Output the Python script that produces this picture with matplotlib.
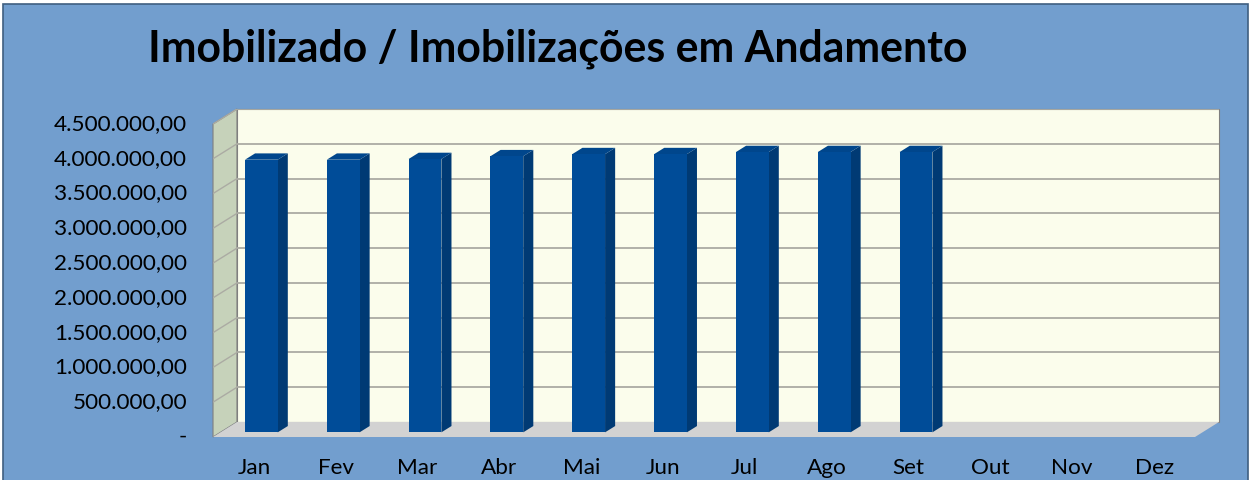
import numpy as np
import matplotlib
matplotlib.use('Agg')
import matplotlib.pyplot as plt
from matplotlib.patches import Polygon, Rectangle
from matplotlib.transforms import offset_copy

plt.rcParams['font.family'] = ['Lato', 'DejaVu Sans']

# data
months = ['Jan', 'Fev', 'Mar', 'Abr', 'Mai', 'Jun', 'Jul', 'Ago', 'Set', 'Out', 'Nov', 'Dez']
values = [3920000, 3920000, 3930000, 3970000, 4000000, 4000000, 4030000, 4030000, 4030000, None, None, None]
yticks = np.arange(0, 4500001, 500000)
title = 'Imobilizado / Imobilizações em Andamento'

# colours
bg = '#729ECE'
wall_back = '#FBFDEC'
wall_side = '#C6D2BA'
floor_c = '#D2D2D2'
grid_c = '#ABABA3'
edge_c = '#7F7F7F'
bar_front = '#004C98'
bar_side = '#003A74'
bar_top = '#00468C'

W, H = 1251, 480
fig = plt.figure(figsize=(W / 100, H / 100), dpi=100)
fig.patch.set_facecolor('white')
fig.patches.append(Rectangle((3 / W, -0.01), 1245 / W, (H - 4) / H + 0.01,
                             transform=fig.transFigure, facecolor=bg,
                             edgecolor='#3F5F80', linewidth=1.2, zorder=-1))

# 3d look: depth offset expressed in data units
ymax = 4500000
dxd = 0.2934
dyd = 0.2158 * 1e6
ax = fig.add_axes([213 / W, (H - 437) / H, 1006 / W, 328 / H])
ax.set_xlim(-0.5, 11.5 + dxd)
ax.set_ylim(0, ymax + dyd)
ax.axis('off')

x0, x1 = -0.5, len(months) - 0.5

# side wall
ax.add_patch(Polygon([(x0, 0), (x0, ymax), (x0 + dxd, ymax + dyd), (x0 + dxd, dyd)],
                     closed=True, facecolor=wall_side, edgecolor=edge_c, linewidth=0.8,
                     zorder=1, clip_on=False))
# back wall
ax.add_patch(Rectangle((x0 + dxd, dyd), x1 - x0, ymax, facecolor=wall_back,
                       edgecolor=edge_c, linewidth=0.8, zorder=1, clip_on=False))
# floor
ax.add_patch(Polygon([(x0, 0), (x1, 0), (x1 + dxd, dyd), (x0 + dxd, dyd)],
                     closed=True, facecolor=floor_c, edgecolor='none', zorder=1,
                     clip_on=False))

# gridlines
for v in yticks[1:]:
    ax.plot([x0 + dxd, x1 + dxd], [v + dyd, v + dyd], color=grid_c, lw=1.3, zorder=2)
    ax.plot([x0, x0 + dxd], [v, v + dyd], color=grid_c, lw=1.0, zorder=2)

# bars
f0, f1 = 0.31, 0.73
w = 0.40
for i, v in enumerate(values):
    if v is None:
        continue
    lx = i - w / 2 + f0 * dxd
    rx = i + w / 2 + f0 * dxd
    by = f0 * dyd
    ddx = (f1 - f0) * dxd
    ddy = (f1 - f0) * dyd
    ax.add_patch(Polygon([(rx, by), (rx + ddx, by + ddy), (rx + ddx, v + by + ddy), (rx, v + by)],
                         closed=True, facecolor=bar_side, edgecolor='none', zorder=3))
    ax.add_patch(Polygon([(lx, v + by), (rx, v + by), (rx + ddx, v + by + ddy), (lx + ddx, v + by + ddy)],
                         closed=True, facecolor=bar_top, edgecolor='none', zorder=3))
    ax.add_patch(Rectangle((lx, by), rx - lx, v, facecolor=bar_front, edgecolor='none', zorder=3))

# tick labels
def fmt(v):
    if v == 0:
        return '-'
    s = f'{v:,.2f}'
    return s.replace(',', 'X').replace('.', ',').replace('X', '.')

ytr = offset_copy(ax.transData, fig=fig, x=-26, y=0, units='dots')
for v in yticks:
    ax.text(x0, v, fmt(v), transform=ytr, ha='right', va='center', fontsize=16.2,
            color='black', clip_on=False)

xtr = offset_copy(ax.transData, fig=fig, x=0, y=-31, units='dots')
for i, m in enumerate(months):
    ax.text(i, 0, m, transform=xtr, ha='center', va='center', fontsize=16.2,
            color='black', clip_on=False)

fig.text(148 / W, 1 - 49 / H, title, ha='left', va='center', fontsize=30.8,
         fontweight='bold', color='black')

fig.savefig('out.png', dpi=100)
